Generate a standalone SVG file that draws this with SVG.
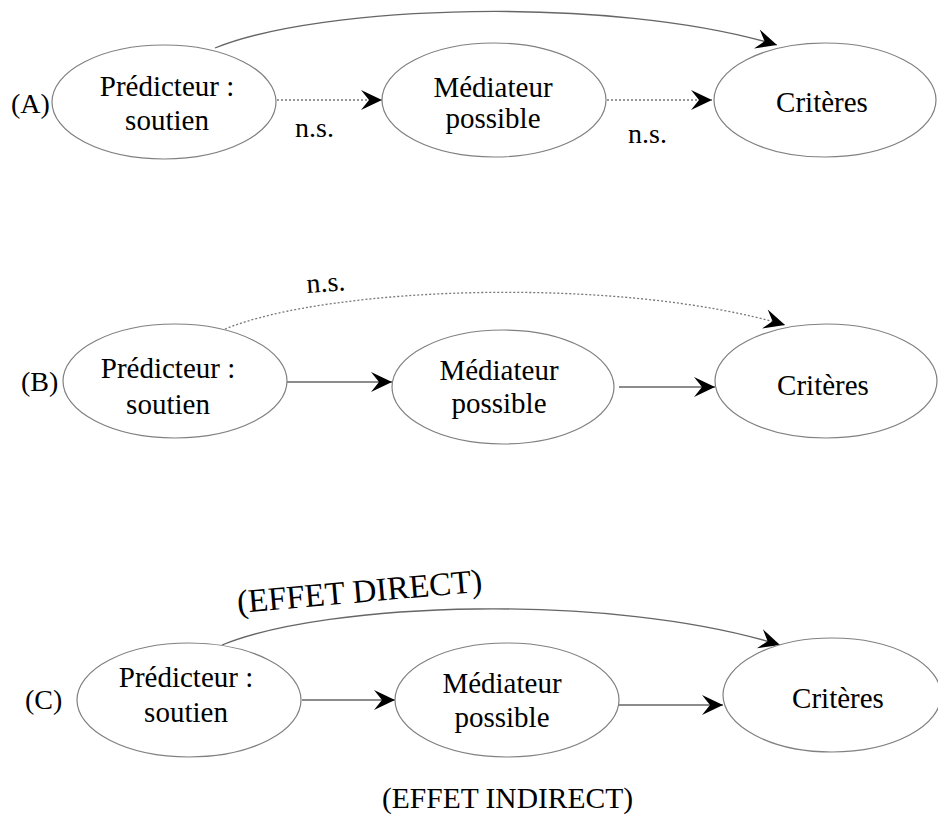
<svg xmlns="http://www.w3.org/2000/svg" width="938" height="818" viewBox="0 0 938 818">
<style>
.node{fill:#fff;stroke:#808080;stroke-width:1.2}
text{font-family:'Liberation Serif','Times New Roman','DejaVu Serif',serif;fill:#000}
.t{font-size:29px}
.lab{font-size:28px}
.solid{fill:none;stroke:#666;stroke-width:1.3;marker-end:url(#arr)}
.dot{fill:none;stroke:#777;stroke-width:1.3;stroke-dasharray:2 2;marker-end:url(#arr)}
</style>
<defs>
<marker id="arr" markerUnits="userSpaceOnUse" viewBox="-22 -11 24 22" refX="0" refY="0" markerWidth="24" markerHeight="22" orient="auto">
<path d="M0,0 L-21,-10 L-13,0 L-21,10 Z" fill="#000"/>
</marker>
</defs>
<rect width="938" height="818" fill="#fff"/>

<g id="connectors">
<path class="solid" d="M215,48 C320,5 610,-5 777,45"/>
<path class="dot" d="M277,100 L382,100"/>
<path class="dot" d="M607,100 L712,100"/>
<path class="dot" d="M225,329 C330,286 620,276 785,325"/>
<path class="solid" d="M287,382 L392,382"/>
<path class="solid" d="M619,387 L715,387"/>
<path class="solid" d="M222,645 C327,602 610,592 780,645"/>
<path class="solid" d="M302,700 L395,700"/>
<path class="solid" d="M619,705 L723,705"/>
</g>

<g id="labels" font-family="Liberation Serif, serif">
<text class="lab" x="11" y="113">(A)</text>
<text class="lab" x="295" y="137">n.s.</text>
<text class="lab" x="628" y="143">n.s.</text>
<text class="lab" x="21" y="391">(B)</text>
<text class="lab" x="307" y="293" transform="rotate(-4 307 293)">n.s.</text>
<text class="lab" x="25" y="709">(C)</text>
<text x="238" y="613" font-size="33" transform="rotate(-5 238 613)">(EFFET DIRECT)</text>
<text x="382" y="808" font-size="29.5">(EFFET INDIRECT)</text>
</g>

<g id="A-predicteur">
<ellipse class="node" cx="164" cy="102" rx="112" ry="57"/>
<text class="t" x="167" y="96" text-anchor="middle">Prédicteur :</text>
<text class="t" x="167" y="130" text-anchor="middle">soutien</text>
</g>
<g id="A-mediateur">
<ellipse class="node" cx="494" cy="100" rx="112" ry="57"/>
<text class="t" x="493" y="97" text-anchor="middle">Médiateur</text>
<text class="t" x="493" y="128" text-anchor="middle">possible</text>
</g>
<g id="A-criteres">
<ellipse class="node" cx="825" cy="100" rx="111" ry="57"/>
<text class="t" x="822" y="112" text-anchor="middle">Critères</text>
</g>

<g id="B-predicteur">
<ellipse class="node" cx="175" cy="381" rx="112" ry="57"/>
<text class="t" x="168" y="378" text-anchor="middle">Prédicteur :</text>
<text class="t" x="168" y="414" text-anchor="middle">soutien</text>
</g>
<g id="B-mediateur">
<ellipse class="node" cx="503" cy="387" rx="111" ry="57"/>
<text class="t" x="499" y="380" text-anchor="middle">Médiateur</text>
<text class="t" x="499" y="413" text-anchor="middle">possible</text>
</g>
<g id="B-criteres">
<ellipse class="node" cx="826" cy="381" rx="111" ry="57"/>
<text class="t" x="823" y="395" text-anchor="middle">Critères</text>
</g>

<g id="C-predicteur">
<ellipse class="node" cx="189" cy="700" rx="112" ry="57"/>
<text class="t" x="186" y="687" text-anchor="middle">Prédicteur :</text>
<text class="t" x="186" y="722" text-anchor="middle">soutien</text>
</g>
<g id="C-mediateur">
<ellipse class="node" cx="507" cy="700" rx="112" ry="57"/>
<text class="t" x="502" y="693" text-anchor="middle">Médiateur</text>
<text class="t" x="502" y="727" text-anchor="middle">possible</text>
</g>
<g id="C-criteres">
<ellipse class="node" cx="832" cy="695" rx="109" ry="57"/>
<text class="t" x="838" y="708" text-anchor="middle">Critères</text>
</g>
</svg>
